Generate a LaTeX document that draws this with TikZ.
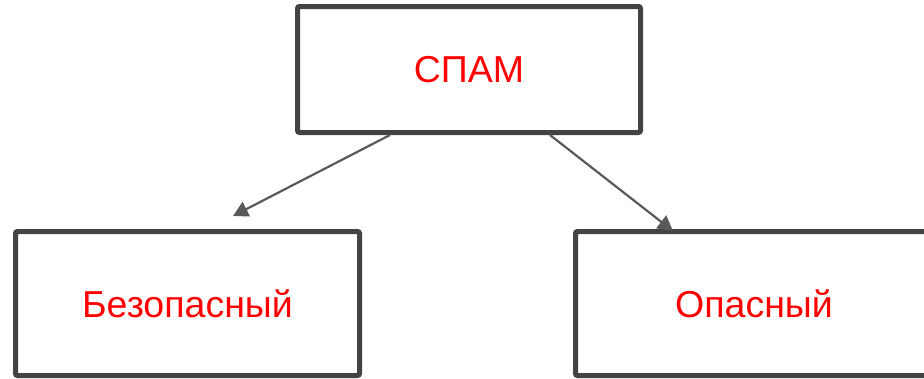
\documentclass[tikz,border=0pt]{standalone}
\usepackage{fontspec}
\setmainfont{Liberation Sans}
\usetikzlibrary{arrows.meta}
\definecolor{boxgray}{HTML}{434343}
\definecolor{arrowgray}{HTML}{595959}
\begin{document}
\begin{tikzpicture}[> = {Triangle[length=15pt, width=16pt]}, x=1pt, y=-1pt,
    box/.style={draw=boxgray, line width=5pt, rounded corners=2pt, fill=white,
        text=red, font=\fontsize{37.5}{42}\selectfont, inner sep=0pt},
    link/.style={->, draw=arrowgray, fill=arrowgray, line width=2.2pt}]
    \useasboundingbox (0, 0) rectangle (924, 378);
    % Boxes
    \node [box, minimum width=343pt, minimum height=126pt]
        (spam) at (469, 69.5) {СПАМ};
    \node [box, minimum width=344pt, minimum height=144pt]
        (safe) at (187.5, 303.5) {Безопасный};
    \node [box, minimum width=357pt, minimum height=144pt]
        (unsafe) at (754, 303.5) {Опасный};
    %% Arrow ends
    \coordinate (spamL) at ([xshift=-79pt]spam.south);
    \coordinate (spamR) at ([xshift=81pt]spam.south);
    \coordinate (safeTip) at (233, 216);
    \coordinate (unsafeTip) at (673, 231);
    %% Arrows
    \draw [link] (spamL) -- (safeTip);
    \draw [link] (spamR) -- (unsafeTip);
\end{tikzpicture}
\end{document}
